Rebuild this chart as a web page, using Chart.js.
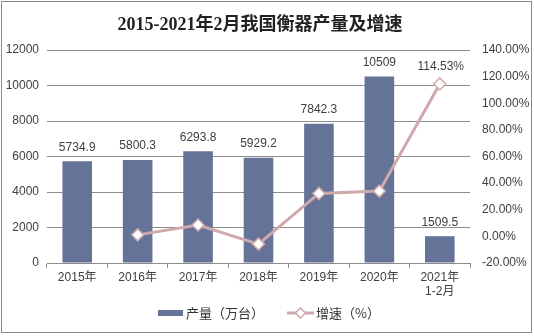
<!DOCTYPE html>
<html>
<head>
<meta charset="utf-8">
<script src="https://cdn.jsdelivr.net/npm/chart.js@4.4.1/dist/chart.umd.min.js"></script>
<style>
  html, body { margin: 0; padding: 0; background: #fff; }
  #wrap { width: 534px; height: 336px; position: relative; }
</style>
</head>
<body>
<div id="wrap"><canvas id="c" width="534" height="336"></canvas></div>
<script>
const categories = ['2015年', '2016年', '2017年', '2018年', '2019年', '2020年', ['2021年', '1-2月']];
const output = [5734.9, 5800.3, 6293.8, 5929.2, 7842.3, 10509, 1509.5];
const growth = [null, 1.14, 8.51, -5.79, 32.27, 34.0, 114.53];
const leftTicks = [0, 2000, 4000, 6000, 8000, 10000, 12000];
const rightTicks = [-20, 0, 20, 40, 60, 80, 100, 120, 140];

const TITLE = '2015-2021年2月我国衡器产量及增速';
const BAR_COLOR = '#667399';
const LINE_COLOR = '#cfa9ab';
const TEXT = '#404040';
const FONT = '"Liberation Sans", Arial, "Noto Sans CJK SC", sans-serif';

const decorations = {
  id: 'decorations',
  afterDraw(chart) {
    const ctx = chart.ctx;
    ctx.save();
    // frame
    ctx.strokeStyle = '#8a8a8a';
    ctx.lineWidth = 1;
    ctx.strokeRect(1.5, 1.5, 530, 331);
    // title
    ctx.fillStyle = '#222';
    ctx.font = 'bold 18px "Liberation Serif", "Noto Sans CJK SC", serif';
    ctx.textAlign = 'center';
    ctx.textBaseline = 'middle';
    ctx.fillText(TITLE, 260, 25);

    // bar value labels
    ctx.font = '12px ' + FONT;
    ctx.fillStyle = TEXT;
    ctx.textBaseline = 'middle';
    const barMeta = chart.getDatasetMeta(0);
    barMeta.data.forEach((el, i) => {
      ctx.fillText(String(output[i]), el.x, el.y - 14);
    });
    // last growth label
    const lineMeta = chart.getDatasetMeta(1);
    const last = lineMeta.data[growth.length - 1];
    ctx.fillText(growth[growth.length - 1].toFixed(2) + '%', last.x + 1, last.y - 17);

    // legend
    const ly = 313;
    ctx.fillStyle = BAR_COLOR;
    ctx.fillRect(158, ly - 3, 25, 6);
    ctx.fillStyle = '#333';
    ctx.font = '13px "Noto Sans CJK SC", sans-serif';
    ctx.textAlign = 'left';
    ctx.textBaseline = 'middle';
    ctx.fillText('产量（万台）', 186, ly);
    ctx.strokeStyle = LINE_COLOR;
    ctx.lineWidth = 3;
    ctx.beginPath();
    ctx.moveTo(287, ly);
    ctx.lineTo(314, ly);
    ctx.stroke();
    ctx.fillStyle = '#fff';
    ctx.lineWidth = 1.5;
    ctx.beginPath();
    ctx.moveTo(300.5, ly - 5);
    ctx.lineTo(305.5, ly);
    ctx.lineTo(300.5, ly + 5);
    ctx.lineTo(295.5, ly);
    ctx.closePath();
    ctx.fill();
    ctx.stroke();
    ctx.fillStyle = '#333';
    ctx.fillText('增速（%）', 316, ly);
    ctx.restore();
  }
};

new Chart(document.getElementById('c'), {
  type: 'bar',
  data: {
    labels: categories,
    datasets: [
      {
        type: 'bar',
        label: '产量（万台）',
        data: output,
        backgroundColor: BAR_COLOR,
        yAxisID: 'y',
        barPercentage: 0.49,
        categoryPercentage: 1.0,
        order: 2
      },
      {
        type: 'line',
        label: '增速（%）',
        data: growth,
        borderColor: LINE_COLOR,
        borderWidth: 3,
        pointStyle: 'rectRot',
        pointRadius: 6,
        pointBackgroundColor: '#fff',
        pointBorderColor: LINE_COLOR,
        pointBorderWidth: 1.5,
        tension: 0,
        yAxisID: 'y1',
        order: 1
      }
    ]
  },
  options: {
    responsive: false,
    animation: false,
    layout: { padding: { top: 50, bottom: 33, left: 0, right: 0 } },
    plugins: {
      legend: { display: false },
      title: { display: false },
      tooltip: { enabled: false }
    },
    scales: {
      x: {
        grid: { display: true, drawOnChartArea: false, offset: true, color: '#8c8c8c', tickLength: 5 },
        border: { display: true, color: '#8c8c8c' },
        ticks: { color: TEXT, font: { size: 12, family: FONT }, padding: 2, maxRotation: 0, autoSkip: false },
        afterFit(s) { s.height = 40; }
      },
      y: {
        position: 'left',
        min: 0,
        max: 12000,
        afterBuildTicks(s) { s.ticks = leftTicks.map(v => ({ value: v })); },
        grid: { color: '#8c8c8c', drawTicks: false },
        border: { display: false },
        ticks: { color: TEXT, font: { size: 12, family: FONT }, padding: 8, callback: v => String(v) },
        afterFit(s) { s.width = 47; }
      },
      y1: {
        position: 'right',
        min: -20,
        max: 140,
        afterBuildTicks(s) { s.ticks = rightTicks.map(v => ({ value: v })); },
        grid: { display: false, drawTicks: false },
        border: { display: false },
        ticks: {
          color: TEXT,
          font: { size: 12, family: FONT },
          padding: 12,
          callback: v => v.toFixed(2) + '%'
        },
        afterFit(s) { s.width = 64; }
      }
    }
  },
  plugins: [decorations]
});
</script>
</body>
</html>
